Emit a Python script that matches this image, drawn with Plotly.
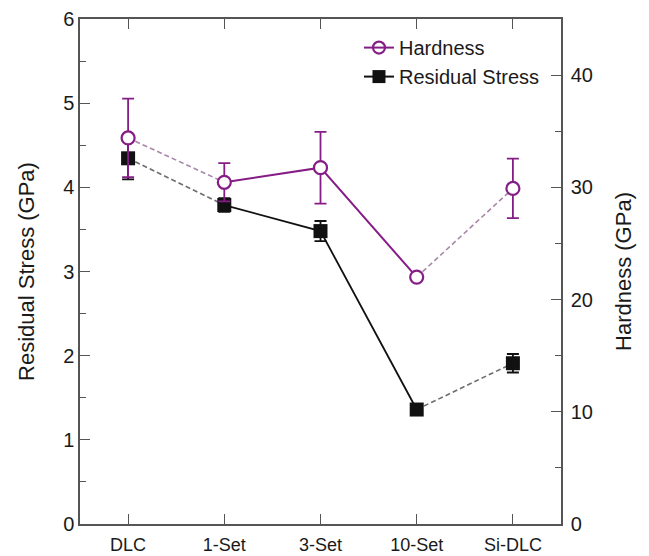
import plotly.graph_objects as go

categories = ["DLC", "1-Set", "3-Set", "10-Set", "Si-DLC"]
hardness = [34.4, 30.45, 31.75, 22.0, 29.9]
hardness_err = [3.5, 1.7, 3.2, 0.0, 2.65]
stress = [4.345, 3.79, 3.48, 1.36, 1.91]
stress_err = [0.25, 0.08, 0.12, 0.0, 0.11]

PURPLE = "#861c86"
PURPLE_DASH = "#a888a8"
BLACK = "#111111"
GRAY_DASH = "#6e6e6e"
AXIS = "#555555"
FONT = "Liberation Sans, Arial, sans-serif"
DASH = "5px,3px"

fig = go.Figure()

# legend entries
fig.add_trace(go.Scatter(x=[None], y=[None], mode="lines+markers", name="Hardness",
                         line=dict(color=PURPLE, width=2),
                         marker=dict(symbol="circle-open", size=12, color=PURPLE, line=dict(width=2.2)),
                         yaxis="y2"))
fig.add_trace(go.Scatter(x=[None], y=[None], mode="lines+markers", name="Residual Stress",
                         line=dict(color=BLACK, width=2),
                         marker=dict(symbol="square", size=13, color=BLACK),
                         yaxis="y"))

# residual stress (left axis)
fig.add_trace(go.Scatter(x=categories[0:2], y=stress[0:2], mode="lines", showlegend=False,
                         line=dict(color=GRAY_DASH, width=1.6, dash=DASH), yaxis="y"))
fig.add_trace(go.Scatter(x=categories[3:5], y=stress[3:5], mode="lines", showlegend=False,
                         line=dict(color=GRAY_DASH, width=1.6, dash=DASH), yaxis="y"))
fig.add_trace(go.Scatter(x=categories[1:4], y=stress[1:4], mode="lines", showlegend=False,
                         line=dict(color=BLACK, width=1.8), yaxis="y"))
fig.add_trace(go.Scatter(x=categories, y=stress, mode="markers", showlegend=False,
                         marker=dict(symbol="square", size=14, color=BLACK),
                         error_y=dict(type="data", array=stress_err, color=BLACK, thickness=1.8, width=6),
                         yaxis="y"))

# hardness (right axis)
fig.add_trace(go.Scatter(x=categories[0:2], y=hardness[0:2], mode="lines", showlegend=False,
                         line=dict(color=PURPLE_DASH, width=1.6, dash=DASH), yaxis="y2"))
fig.add_trace(go.Scatter(x=categories[3:5], y=hardness[3:5], mode="lines", showlegend=False,
                         line=dict(color=PURPLE_DASH, width=1.6, dash=DASH), yaxis="y2"))
fig.add_trace(go.Scatter(x=categories[1:4], y=hardness[1:4], mode="lines", showlegend=False,
                         line=dict(color=PURPLE, width=2), yaxis="y2"))
fig.add_trace(go.Scatter(x=categories, y=hardness, mode="markers", showlegend=False,
                         marker=dict(symbol="circle", size=13, color="white",
                                     line=dict(color=PURPLE, width=2.2)),
                         error_y=dict(type="data", array=hardness_err, color=PURPLE, thickness=1.8, width=6),
                         yaxis="y2"))

fig.update_layout(
    width=649, height=556,
    margin=dict(l=80, r=88, t=19, b=32),
    paper_bgcolor="white", plot_bgcolor="white",
    font=dict(family=FONT, size=18, color="#1a1a1a"),
    showlegend=True,
    legend=dict(x=0.58, y=0.982, xanchor="left", yanchor="top",
                bgcolor="rgba(0,0,0,0)", font=dict(size=20, family=FONT),
                itemwidth=30, tracegroupgap=0),
    xaxis=dict(type="category", categoryorder="array", categoryarray=categories,
               range=[-0.5, 4.5], showline=True, linecolor=AXIS, linewidth=1.5,
               mirror="ticks", ticks="inside", ticklen=10, tickwidth=1.3, tickcolor=AXIS,
               tickfont=dict(size=18), ticklabelstandoff=4,
               showgrid=False, zeroline=False, automargin=False),
    yaxis=dict(range=[0, 6], dtick=1, showline=True, linecolor=AXIS, linewidth=1.5,
               ticks="inside", ticklen=10, tickwidth=1.3, tickcolor=AXIS,
               minor=dict(dtick=0.5, ticks="inside", ticklen=6, tickcolor=AXIS, tickwidth=1.2),
               tickfont=dict(size=20), showgrid=False, zeroline=False, automargin=False,
               title=dict(text="Residual Stress (GPa)", font=dict(size=22), standoff=22)),
    yaxis2=dict(range=[0, 45], dtick=10, overlaying="y", side="right", showline=True,
                linecolor=AXIS, linewidth=1.5, ticks="inside", ticklen=10, tickwidth=1.3, tickcolor=AXIS,
                minor=dict(dtick=5, ticks="inside", ticklen=6, tickcolor=AXIS, tickwidth=1.2),
                tickfont=dict(size=20), ticklabelstandoff=4,
                showgrid=False, zeroline=False, automargin=False,
                title=dict(text="Hardness (GPa)", font=dict(size=22), standoff=24)),
)

fig.write_html("out.html")
